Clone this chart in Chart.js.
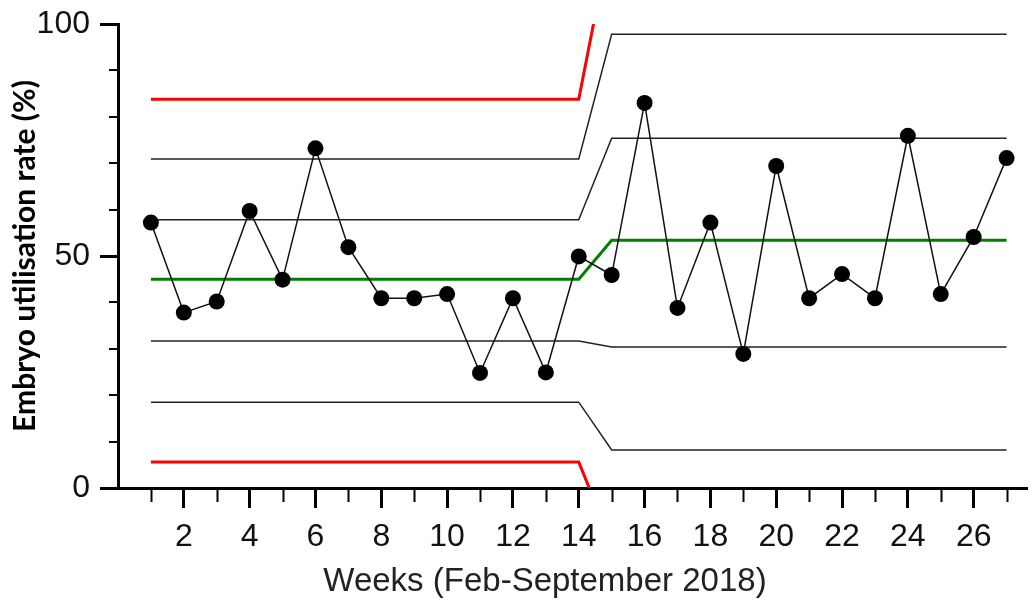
<!DOCTYPE html>
<html>
<head>
<meta charset="utf-8">
<script src="https://cdn.jsdelivr.net/npm/chart.js@4.4.1/dist/chart.umd.min.js"></script>
<style>
  html, body { margin: 0; padding: 0; background: #fff; overflow: hidden; }
  canvas { display: block; }
</style>
</head>
<body>
<canvas id="spc" width="1035" height="602"></canvas>
<script>
// Weekly embryo utilisation rate (%)
const weeks = [1, 2, 3, 4, 5, 6, 7, 8, 9, 10, 11, 12, 13, 14, 15, 16, 17, 18, 19, 20, 21, 22, 23, 24, 25, 26, 27];
const utilisation = [57.2, 37.8, 40.2, 59.7, 44.9, 73.2, 51.9, 40.9, 40.9, 41.8, 24.8, 40.9, 24.9, 49.9,
    45.9, 83.0, 38.8, 57.2, 28.9, 69.4, 40.9, 46.1, 40.9, 75.9, 41.8, 54.1, 71.1];

// Two phases: weeks 1-14 and 15-27
const phaseWeeks = [[1, 14], [15, 27]];
const centreLine = [45.0, 53.4];
const upper1 = [57.8, 75.4];
const upper2 = [70.9, 97.8];
const upper3 = [83.8, 120.0];
const lower1 = [31.7, 30.4];
const lower2 = [18.5, 8.2];
const lower3 = [5.6, -12.0];

const yTicks = [0, 50, 100];
const xLabelTicks = [2, 4, 6, 8, 10, 12, 14, 16, 18, 20, 22, 24, 26];

function phaseLine(vals) {
    const pts = [];
    phaseWeeks.forEach((p, i) => {
        pts.push({ x: p[0], y: vals[i] });
        pts.push({ x: p[1], y: vals[i] });
    });
    return pts;
}

function limitSet(label, vals, colour, width) {
    return {
        label: label,
        data: phaseLine(vals),
        borderColor: colour,
        borderWidth: width,
        pointRadius: 0,
        fill: false,
        tension: 0
    };
}

// minor tick marks (odd weeks, every 10 %)
const minorTicks = {
    id: 'minorTicks',
    afterDraw(chart) {
        const ctx = chart.ctx;
        const xs = chart.scales.x;
        const ys = chart.scales.y;
        const area = chart.chartArea;
        ctx.save();
        ctx.strokeStyle = '#000';
        ctx.lineWidth = 2;
        ctx.beginPath();
        weeks.filter(w => !xLabelTicks.includes(w)).forEach(w => {
            const px = Math.round(xs.getPixelForValue(w)) + 0.5;
            ctx.moveTo(px, area.bottom);
            ctx.lineTo(px, area.bottom + 14);
        });
        for (let v = 10; v < 100; v += 10) {
            if (yTicks.includes(v)) continue;
            const py = Math.round(ys.getPixelForValue(v));
            ctx.moveTo(area.left - 9, py);
            ctx.lineTo(area.left, py);
        }
        ctx.stroke();
        ctx.restore();
    }
};

const ctx = document.getElementById('spc').getContext('2d');

new Chart(ctx, {
    type: 'line',
    data: {
        datasets: [
            {
                label: 'Utilisation',
                data: weeks.map((w, i) => ({ x: w, y: utilisation[i] })),
                borderColor: '#111',
                borderWidth: 1.5,
                pointRadius: 8,
                pointBackgroundColor: '#000',
                pointBorderColor: '#000',
                pointBorderWidth: 0,
                fill: false,
                tension: 0
            },
            limitSet('CL', centreLine, '#008000', 3),
            limitSet('+1s', upper1, '#222', 1.5),
            limitSet('+2s', upper2, '#222', 1.5),
            limitSet('-1s', lower1, '#222', 1.5),
            limitSet('-2s', lower2, '#222', 1.5),
            limitSet('UCL', upper3, '#ff0000', 3),
            limitSet('LCL', lower3, '#ff0000', 3)
        ]
    },
    options: {
        responsive: false,
        animation: false,
        layout: { padding: { top: 24, right: 0, left: 0, bottom: 0 } },
        plugins: {
            legend: { display: false },
            tooltip: { enabled: false }
        },
        scales: {
            x: {
                type: 'linear',
                min: 0,
                max: 27.62,
                afterBuildTicks: (scale) => {
                    scale.ticks = weeks.map(w => ({ value: w }));
                },
                afterFit: (scale) => { scale.height = 114; },
                ticks: {
                    autoSkip: false,
                    maxRotation: 0,
                    padding: 10,
                    color: '#111',
                    font: { family: 'Liberation Sans', size: 32 },
                    callback: (v) => xLabelTicks.includes(v) ? String(v) : ''
                },
                grid: {
                    drawOnChartArea: false,
                    tickLength: 20,
                    tickWidth: 3,
                    tickColor: (c) => (c.tick && xLabelTicks.includes(c.tick.value)) ? '#000' : 'rgba(0,0,0,0)'
                },
                border: { color: '#000', width: 3 },
                title: {
                    display: true,
                    text: 'Weeks (Feb-September 2018)\u00a0\u00a0\u00a0\u00a0\u00a0\u00a0',
                    color: '#222',
                    font: { family: 'Liberation Sans', size: 33 },
                    padding: { top: 0, bottom: 0 }
                }
            },
            y: {
                min: 0,
                max: 100,
                afterFit: (scale) => {
                    scale.width = 118;
                    scale.paddingTop = 0;
                    scale.paddingBottom = 0;
                },
                ticks: {
                    stepSize: 10,
                    padding: 10,
                    color: '#111',
                    font: { family: 'Liberation Sans', size: 32 },
                    callback: (v) => yTicks.includes(v) ? String(v) : ''
                },
                grid: {
                    drawOnChartArea: false,
                    tickLength: 18,
                    tickWidth: 3,
                    tickColor: (c) => (c.tick && yTicks.includes(c.tick.value)) ? '#000' : 'rgba(0,0,0,0)'
                },
                border: { color: '#000', width: 3 },
                title: {
                    display: true,
                    text: 'Embryo utilisation rate (%)',
                    color: '#000',
                    font: { family: 'Lato', size: 30, weight: 'bold' },
                    padding: { top: 7, bottom: 0 }
                }
            }
        }
    },
    plugins: [minorTicks]
});
</script>
</body>
</html>
